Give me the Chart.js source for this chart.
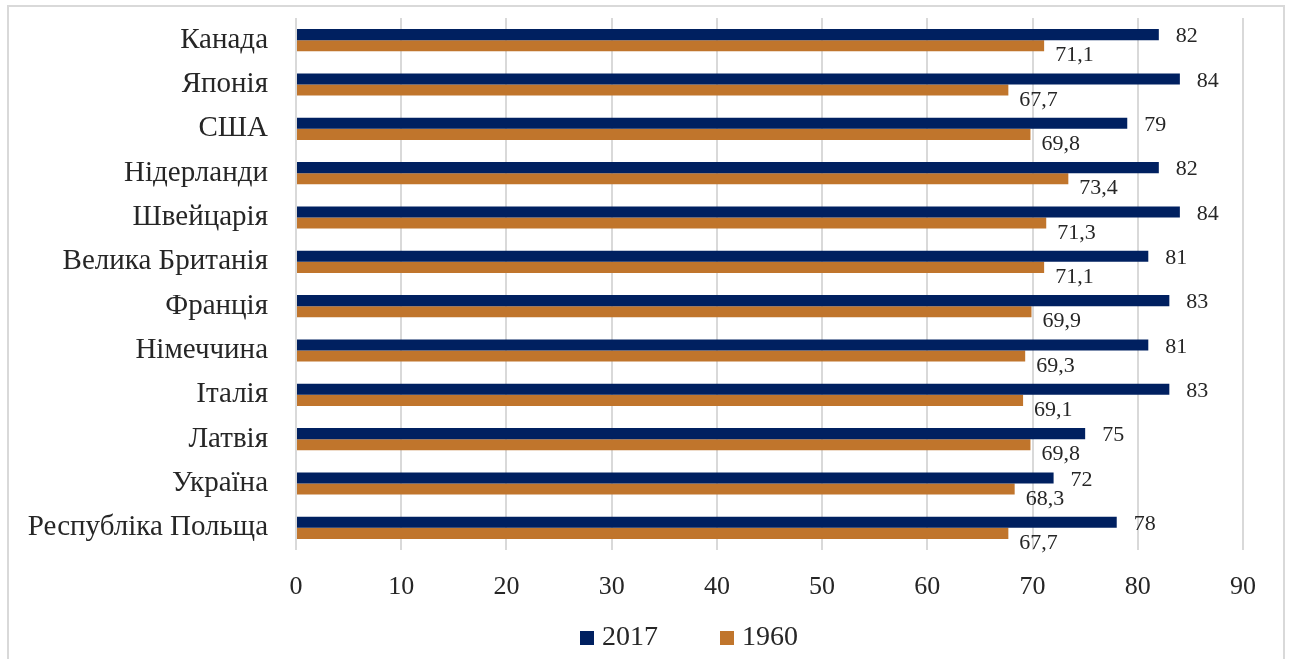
<!DOCTYPE html>
<html lang="uk">
<head>
  <meta charset="UTF-8">
  <title>Тривалість життя</title>
  <script src="https://cdn.jsdelivr.net/npm/chart.js"></script>
  <style>
    body {
      margin: 0;
      background: #fff;
    }
    #frame {
      position: absolute;
      left: 7px;
      top: 5px;
      width: 1274px;
      height: 660px;
      border: 2px solid #d9d9d9;
    }
    #wrap {
      position: absolute;
      left: 0;
      top: 0;
      width: 1293px;
      height: 659px;
    }
  </style>
</head>
<body>
  <div id="frame"></div>
  <div id="wrap"><canvas id="lifeChart"></canvas></div>

  <script>
    // data
    const countries = ['Канада', 'Японія', 'США', 'Нідерланди', 'Швейцарія', 'Велика Британія',
      'Франція', 'Німеччина', 'Італія', 'Латвія', 'Україна', 'Республіка Польща'];
    const values2017 = [82, 84, 79, 82, 84, 81, 83, 81, 83, 75, 72, 78];
    const values1960 = [71.1, 67.7, 69.8, 73.4, 71.3, 71.1, 69.9, 69.3, 69.1, 69.8, 68.3, 67.7];
    const xTicks = [0, 10, 20, 30, 40, 50, 60, 70, 80, 90];

    const serif = '"Liberation Serif", "Times New Roman", serif';
    const textColor = '#262626';

    // value labels next to each bar, comma as decimal separator
    const barLabels = {
      id: 'barLabels',
      afterDatasetsDraw(chart) {
        const ctx = chart.ctx;
        ctx.save();
        ctx.font = '22px ' + serif;
        ctx.fillStyle = textColor;
        ctx.textAlign = 'left';
        ctx.textBaseline = 'middle';
        chart.data.datasets.forEach((ds, i) => {
          const meta = chart.getDatasetMeta(i);
          const dx = i === 0 ? 17 : 11;
          const dy = i === 0 ? 2 : 10;
          meta.data.forEach((bar, j) => {
            const txt = String(ds.data[j]).replace('.', ',');
            ctx.fillText(txt, bar.x + dx, bar.y + dy);
          });
        });
        ctx.restore();
      }
    };

    // legend drawn below the axis like the original
    const bottomLegend = {
      id: 'bottomLegend',
      afterDraw(chart) {
        const ctx = chart.ctx;
        ctx.save();
        ctx.font = '28px ' + serif;
        ctx.textBaseline = 'middle';
        ctx.textAlign = 'left';
        let x = 580;
        const y = 638;
        chart.data.datasets.forEach(ds => {
          ctx.fillStyle = ds.backgroundColor;
          ctx.fillRect(x, y - 7, 14, 14);
          ctx.fillStyle = textColor;
          ctx.fillText(ds.label, x + 22, y);
          x += 140;
        });
        ctx.restore();
      }
    };

    new Chart(document.getElementById('lifeChart'), {
      type: 'bar',
      data: {
        labels: countries,
        datasets: [
          {
            label: '2017',
            data: values2017,
            backgroundColor: '#002060',
            categoryPercentage: 0.5,
            barPercentage: 1.0
          },
          {
            label: '1960',
            data: values1960,
            backgroundColor: '#c0752c',
            categoryPercentage: 0.5,
            barPercentage: 1.0
          }
        ]
      },
      options: {
        indexAxis: 'y',
        responsive: true,
        maintainAspectRatio: false,
        animation: false,
        layout: {
          padding: { left: 0, right: 50, top: 18, bottom: 49 }
        },
        plugins: {
          legend: { display: false },
          tooltip: { enabled: false }
        },
        scales: {
          x: {
            min: 0,
            max: 90,
            afterBuildTicks: scale => {
              scale.ticks = xTicks.map(v => ({ value: v }));
            },
            afterFit: scale => {
              scale.height = 60;
            },
            grid: {
              color: '#d9d9d9',
              lineWidth: 2,
              drawTicks: false
            },
            border: { display: false },
            ticks: {
              padding: 22,
              color: textColor,
              font: { family: serif, size: 26 }
            }
          },
          y: {
            afterFit: scale => {
              scale.width = 296;
              scale.paddingTop = 0;
              scale.paddingBottom = 0;
            },
            grid: { display: false, drawTicks: false },
            border: { display: false },
            ticks: {
              padding: 28,
              color: textColor,
              font: { family: serif, size: 29 }
            }
          }
        }
      },
      plugins: [barLabels, bottomLegend]
    });
  </script>
</body>
</html>
